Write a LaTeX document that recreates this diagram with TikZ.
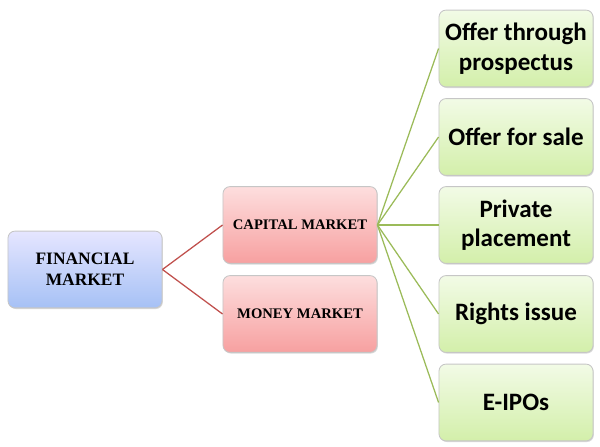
\documentclass[tikz,border=0pt]{standalone}
\usepackage{fontspec}
\setmainfont{Carlito}
\newfontfamily\capsfont{Liberation Serif}
\usepackage{tikz}
\usetikzlibrary{positioning,shadows}
\definecolor{redline}{HTML}{C0504D}
\definecolor{greenline}{HTML}{9BBB59}
\tikzset{
  bx/.style={rectangle, rounded corners=5pt, draw=gray!45, line width=0.6pt,
    minimum width=3.85cm, minimum height=1.92cm, align=center,
    drop shadow={shadow xshift=0.6pt, shadow yshift=-0.8pt, opacity=0.3}},
  fin/.style={bx, top color=blue!10!white, bottom color={rgb,255:red,166;green,193;blue,245},
    font=\capsfont\bfseries\fontsize{12.4}{15}\selectfont},
  mkt/.style={bx, top color={rgb,255:red,253;green,222;blue,222}, bottom color={rgb,255:red,247;green,160;blue,160},
    font=\capsfont\bfseries\fontsize{10.4}{13}\selectfont},
  ofr/.style={bx, top color={rgb,255:red,242;green,251;blue,230}, bottom color={rgb,255:red,211;green,239;blue,170},
    font=\bfseries\fontsize{17.8}{21}\selectfont},
  Re/.style={draw=redline, line width=0.9pt},
  Ge/.style={draw=greenline, line width=0.9pt}
}
\begin{document}
\begin{tikzpicture}[x=0.025cm, y=-0.025cm]
  \useasboundingbox (0,0) rectangle (600,447);
  \node[fin] (fm) at (85,269.5) {FINANCIAL\\MARKET};
  \node[mkt] (cm) at (300,225) {CAPITAL MARKET};
  \node[mkt] (mm) at (300,314) {MONEY MARKET};
  \node[ofr] (o1) at (516,48.5) {Offer through\\prospectus};
  \node[ofr] (o2) at (516,137) {Offer for sale};
  \node[ofr] (o3) at (516,225) {Private\\placement};
  \node[ofr] (o4) at (516,314) {Rights issue};
  \node[ofr] (o5) at (516,402.5) {E-IPOs};
  \draw[Re] (fm.east) -- (cm.west);
  \draw[Re] (fm.east) -- (mm.west);
  \foreach \o in {o1,o2,o3,o4,o5}
    \draw[Ge] (cm.east) -- (\o.west);
\end{tikzpicture}
\end{document}
